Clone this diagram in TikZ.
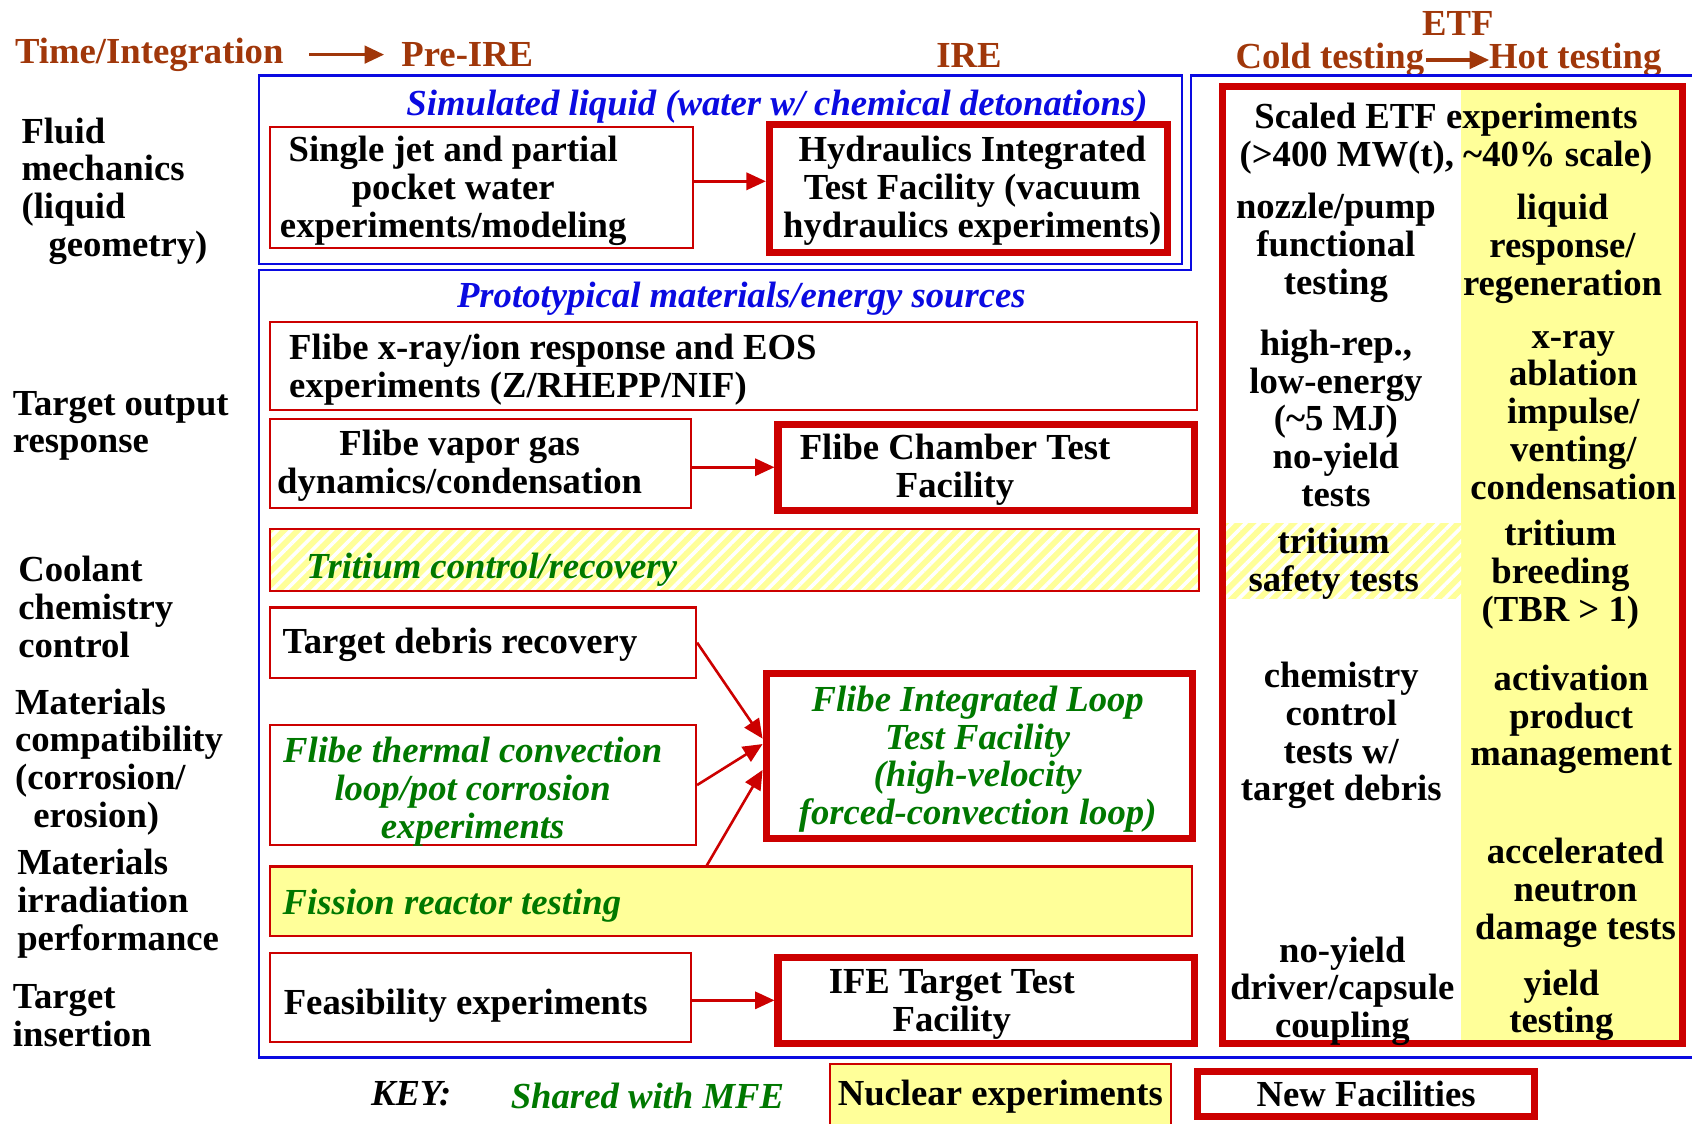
\documentclass[tikz,border=0pt]{standalone}
\usepackage{fontspec}
\setmainfont{Liberation Serif}
\usetikzlibrary{arrows.meta,patterns.meta}
\definecolor{myred}{RGB}{204,0,0}
\definecolor{myyellow}{RGB}{255,255,153}
\definecolor{myblue}{RGB}{10,10,225}
\definecolor{mygreen}{RGB}{0,120,0}
\definecolor{mybrown}{RGB}{160,55,10}
\newcommand{\myfs}{\fontsize{17}{17.5}\selectfont}
\begin{document}
\begin{tikzpicture}[x=0.5pt,y=-0.5pt,
  every node/.style={font=\myfs\bfseries, inner sep=0pt, outer sep=0pt, yshift=-1.8pt},
  txt/.style={align=center},
  ltxt/.style={align=left, anchor=west},
  hdr/.style={text=mybrown},
  bluetxt/.style={text=myblue, font=\myfs\bfseries\itshape},
  greentxt/.style={text=mygreen, font=\myfs\bfseries\itshape},
  thinbox/.style={draw=myred, line width=1pt, outer sep=0.5pt, yshift=1.8pt},
  thickbox/.style={draw=myred, line width=3.3pt, outer sep=1.65pt, yshift=1.8pt},
  blueline/.style={draw=myblue, line width=1pt},
  rarrow/.style={draw=myred, line width=1.2pt, -{Triangle[length=9pt,width=8pt]}},
  harrow/.style={draw=mybrown, line width=1.6pt, -{Triangle[length=9pt,width=8pt]}},
  stripes/.style={preaction={fill=myyellow}, preaction={pattern={Lines[angle=45,distance=4.5pt,line width=1.7pt]}, pattern color=white}}
]
\useasboundingbox (0,0) rectangle (1568,1041);

% ---------- header ----------
\node[hdr, anchor=west] (time) at (14,47) {Time/Integration};
\node[hdr, anchor=west] (pre) at (372,47) {Pre-IRE};
\draw[harrow] ([xshift=12pt]time.east) -- ([xshift=-8pt]pre.west);
\node[hdr] (ire) at (898,48) {IRE};
\node[hdr] (etfh) at (1351,18) {ETF};
\node[hdr, anchor=west] (cold) at (1145,52) {Cold testing};
\node[hdr, anchor=west] (hot) at (1380,52) {Hot testing};
\draw[harrow] ([xshift=1pt]cold.east) -- (hot.west);

% ---------- left labels ----------
\node[ltxt] (l1) at (20,173.5) {Fluid\\mechanics\\(liquid\\\hspace*{12.5pt}geometry)};
\node[ltxt] (l2) at (12,391) {Target output\\response};
\node[ltxt] (l3) at (17,559) {Coolant\\chemistry\\control};
\node[ltxt] (l4) at (14,702.5) {Materials\\compatibility\\(corrosion/\\\hspace*{8.5pt}erosion)};
\node[ltxt] (l5) at (16,834) {Materials\\irradiation\\performance};
\node[ltxt] (l6) at (12,937.5) {Target\\insertion};

% ---------- blue frames ----------
\draw[blueline] (240,70) rectangle (1095,245);
\draw[blueline] (1590,70) -- (1104,70) -- (1104,250) -- (240,250) -- (240,980) -- (1590,980);
\node[bluetxt] (sim) at (720,95) {Simulated liquid (water w/ chemical detonations)};
\node[bluetxt] (proto) at (687,273) {Prototypical materials/energy sources};

% ---------- fluid mechanics row ----------
\node[thinbox, minimum width=196pt, minimum height=56pt] (single) at (446,174) {};
\node[txt] at (420,173) {Single jet and partial\\pocket water\\experiments/modeling};
\node[thickbox, minimum width=184.5pt, minimum height=59.5pt] (hydro) at (897.5,174.5) {};
\node[txt] at (901,173) {Hydraulics Integrated\\Test Facility (vacuum\\hydraulics experiments)};
\draw[rarrow] ([yshift=3pt]single.east) -- ([yshift=3pt]single.east -| hydro.west);

% ---------- target output ----------
\node[thinbox, minimum width=429.5pt, minimum height=41pt] (xray) at (679.5,339) {};
\node[ltxt] at (268,339) {Flibe x-ray/ion response and EOS\\experiments (Z/RHEPP/NIF)};
\node[thinbox, minimum width=195pt, minimum height=41.5pt] (vapor) at (445,429.5) {};
\node[txt] at (426,428) {Flibe vapor gas\\dynamics/condensation};
\node[thickbox, minimum width=193pt, minimum height=40pt] (chamber) at (914,433) {};
\node[txt] at (885,432) {Flibe Chamber Test\\Facility};
\draw[rarrow] (vapor.east |- chamber.west) -- (chamber.west);

% ---------- coolant chemistry ----------
\node[thinbox, stripes, minimum width=430.5pt, minimum height=29pt] (trit) at (680.5,519) {};
\node[greentxt, anchor=west] at (284,524) {Tritium control/recovery};
\node[thinbox, minimum width=197.5pt, minimum height=32.5pt] (debris) at (447.5,595.5) {};
\node[anchor=west] at (262,594) {Target debris recovery};

% ---------- materials ----------
\node[thinbox, minimum width=197.5pt, minimum height=55.5pt] (thermal) at (447.5,727.5) {};
\node[txt, greentxt] at (438,730) {Flibe thermal convection\\loop/pot corrosion\\experiments};
\node[thickbox, minimum width=197.5pt, minimum height=76.5pt] (loop) at (907.5,700.5) {};
\node[txt, greentxt] at (906,700) {Flibe Integrated Loop\\Test Facility\\(high-velocity\\forced-convection loop)};
\node[thinbox, fill=myyellow, minimum width=427.5pt, minimum height=32pt] (fission) at (677.5,835) {};
\node[greentxt, anchor=west] at (262,836) {Fission reactor testing};
\draw[rarrow] (debris.east) -- ([yshift=8pt]loop.west);
\draw[rarrow] (thermal.east) -- ([yshift=5.5pt]loop.west);
\draw[rarrow] ([xshift=4.5pt]fission.north -| thermal.east) -- ([yshift=-6.5pt]loop.west);

% ---------- target insertion ----------
\node[thinbox, minimum width=195pt, minimum height=41.5pt] (feas) at (445,924.5) {};
\node[anchor=west] at (263,928) {Feasibility experiments};
\node[thickbox, minimum width=193pt, minimum height=40pt] (ife) at (914,927) {};
\node[txt] at (882,927) {IFE Target Test\\Facility};
\draw[rarrow] (feas.east |- ife.west) -- (ife.west);

% ---------- ETF column ----------
\fill[myyellow] (1354,80) rectangle (1559,967);
\path[stripes] (1136,485) rectangle (1354,555);
\node[thickbox, minimum width=213pt, minimum height=443.5pt] (etf) at (1346,523.5) {};
\node[txt] at (1340,125) {Scaled ETF experiments\\(>400 MW(t), \textasciitilde 40\% scale)};
\node[txt] at (1238,226) {nozzle/pump\\functional\\testing};
\node[txt] at (1448,227) {liquid\\response/\\regeneration};
\node[txt] at (1238,384) {high-rep.,\\low-energy\\(\textasciitilde 5 MJ)\\no-yield\\tests};
\node[txt] at (1458,381) {x-ray\\ablation\\impulse/\\venting/\\condensation};
\node[txt] at (1236,519) {tritium\\safety tests};
\node[txt] at (1446,529) {tritium\\breeding\\(TBR > 1)};
\node[txt] at (1243,678) {chemistry\\control\\tests w/\\target debris};
\node[txt] at (1456,663) {activation\\product\\management};
\node[txt] at (1460,824) {accelerated\\neutron\\damage tests};
\node[txt] at (1244,915) {no-yield\\driver/capsule\\coupling};
\node[txt] at (1447,928) {yield\\testing};

% ---------- key ----------
\node[font=\myfs\bfseries\itshape] (key) at (381,1010) {KEY:};
\node[greentxt] (mfe) at (600,1012) {Shared with MFE};
\node[thinbox, fill=myyellow, minimum width=158pt, minimum height=30pt] (nuc) at (927,1016) {Nuclear experiments};
\node[thickbox, minimum width=156pt, minimum height=21pt] (newf) at (1266,1014) {New Facilities};
\end{tikzpicture}
\end{document}
